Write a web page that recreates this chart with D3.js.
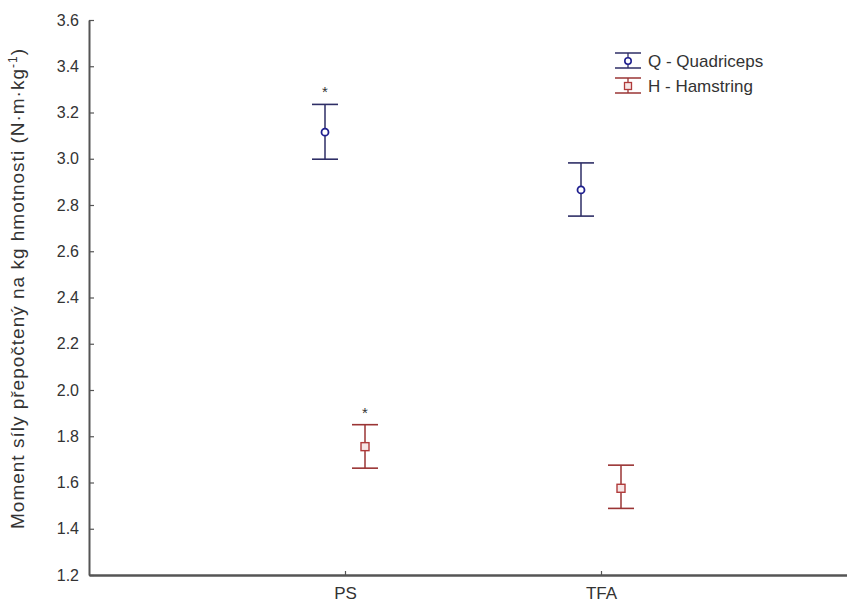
<!DOCTYPE html>
<html>
<head>
<meta charset="utf-8">
<script src="https://cdn.jsdelivr.net/npm/d3@7/dist/d3.min.js"></script>
<style>
  html, body { margin: 0; padding: 0; background: #ffffff; }
  svg { display: block; font-family: "Liberation Sans", Arial, sans-serif; }
</style>
</head>
<body>
<svg id="chart" width="847" height="602"></svg>
<script>
// Groups on the x axis
const groups = ["PS", "TFA"];

// Quadriceps: mean and interval bounds per group
const quadMean  = [3.115, 2.865];
const quadLow   = [2.998, 2.752];
const quadHigh  = [3.235, 2.982];

// Hamstring: mean and interval bounds per group
const hamMean   = [1.755, 1.575];
const hamLow    = [1.662, 1.488];
const hamHigh   = [1.850, 1.675];

// Significance marks per group (Q, H)
const quadSig = [true, false];
const hamSig  = [true, false];

const yTicks = [1.2, 1.4, 1.6, 1.8, 2.0, 2.2, 2.4, 2.6, 2.8, 3.0, 3.2, 3.4, 3.6];

const seriesNames = ["Q - Quadriceps", "H - Hamstring"];

const svg = d3.select("#chart");

const axisLeft = 89, axisBottom = 575, axisTop = 20;

const x = d3.scalePoint().domain(groups).range([axisLeft, 857]).padding(1);
const y = d3.scaleLinear().domain([1.2, 3.6]).range([axisBottom, axisTop]);

const axisColor = "#555555";
const textColor = "#333333";
const qLine = "#2e2e66", qMark = "#1f1f8f";
const hLine = "#9a3434", hMark = "#b03a3a";

// Y axis
const yAxis = svg.append("g")
  .attr("transform", `translate(${axisLeft},0)`)
  .call(d3.axisLeft(y).tickValues(yTicks).tickFormat(d3.format(".1f")).tickSizeInner(-5).tickSizeOuter(0).tickPadding(10));
yAxis.select(".domain").attr("stroke", axisColor).attr("stroke-width", 2);
yAxis.selectAll(".tick line").attr("stroke", axisColor).attr("stroke-width", 1.2);
yAxis.selectAll(".tick text").attr("fill", textColor).style("font-size", "16px");

// X axis
const xAxis = svg.append("g")
  .attr("transform", `translate(0,${axisBottom})`)
  .call(d3.axisBottom(x).tickSizeInner(-4).tickSizeOuter(0).tickPadding(12));
xAxis.select(".domain").attr("stroke", axisColor).attr("stroke-width", 2.5);
xAxis.selectAll(".tick line").attr("stroke", axisColor).attr("stroke-width", 1.2);
xAxis.selectAll(".tick text").attr("fill", textColor).style("font-size", "17px");

// Y axis title
svg.append("text")
  .attr("transform", `translate(24,${289}) rotate(-90)`)
  .attr("text-anchor", "middle")
  .attr("fill", textColor)
  .style("font-size", "19px")
  .attr("textLength", 480)
  .attr("lengthAdjust", "spacing")
  .html('Moment síly přepočtený na kg hmotnosti (N·m·kg<tspan dy="-7" font-size="12px">-1</tspan><tspan dy="7">)</tspan>');

const offset = 20, capHalf = 13;

function drawSeries(means, lows, highs, sig, dx, lineColor, markColor, marker) {
  const g = svg.append("g");
  groups.forEach((grp, i) => {
    const cx = x(grp) + dx;
    g.append("line").attr("x1", cx).attr("x2", cx).attr("y1", y(highs[i])).attr("y2", y(lows[i]))
      .attr("stroke", lineColor).attr("stroke-width", 1.5);
    [highs[i], lows[i]].forEach(v => {
      g.append("line").attr("x1", cx - capHalf).attr("x2", cx + capHalf).attr("y1", y(v)).attr("y2", y(v))
        .attr("stroke", lineColor).attr("stroke-width", 1.6);
    });
    if (marker === "circle") {
      g.append("circle").attr("cx", cx).attr("cy", y(means[i])).attr("r", 3.5)
        .attr("fill", "#ffffff").attr("stroke", markColor).attr("stroke-width", 1.8);
    } else {
      g.append("rect").attr("x", cx - 4).attr("y", y(means[i]) - 4).attr("width", 8).attr("height", 8)
        .attr("fill", "#f6e6e6").attr("stroke", markColor).attr("stroke-width", 1.4);
    }
    if (sig[i]) {
      g.append("text").attr("x", cx).attr("y", y(highs[i]) - 7).attr("text-anchor", "middle")
        .attr("fill", textColor).style("font-size", "15px").text("*");
    }
  });
}

drawSeries(quadMean, quadLow, quadHigh, quadSig, -offset, qLine, qMark, "circle");
drawSeries(hamMean, hamLow, hamHigh, hamSig, offset, hLine, hMark, "square");

// Legend
const legend = svg.append("g").attr("transform", "translate(628,60)");
const legendItems = [
  { name: seriesNames[0], line: qLine, mark: qMark, marker: "circle" },
  { name: seriesNames[1], line: hLine, mark: hMark, marker: "square" }
];
legendItems.forEach((it, i) => {
  const g = legend.append("g").attr("transform", `translate(0,${i * 25})`);
  g.append("line").attr("x1", -13).attr("x2", 13).attr("y1", -7).attr("y2", -7).attr("stroke", it.line).attr("stroke-width", 1.5);
  g.append("line").attr("x1", -13).attr("x2", 13).attr("y1", 8).attr("y2", 8).attr("stroke", it.line).attr("stroke-width", 1.5);
  g.append("line").attr("x1", 0).attr("x2", 0).attr("y1", -7).attr("y2", 8).attr("stroke", it.line).attr("stroke-width", 1.3);
  if (it.marker === "circle") {
    g.append("circle").attr("cx", 0).attr("cy", 1).attr("r", 3.2).attr("fill", "#fff").attr("stroke", it.mark).attr("stroke-width", 1.6);
  } else {
    g.append("rect").attr("x", -3.5).attr("y", -2.5).attr("width", 7).attr("height", 7).attr("fill", "#f6e6e6").attr("stroke", it.mark).attr("stroke-width", 1.3);
  }
  g.append("text").attr("x", 20).attr("y", 7).attr("fill", textColor).style("font-size", "17px").text(it.name);
});
</script>
</body>
</html>
